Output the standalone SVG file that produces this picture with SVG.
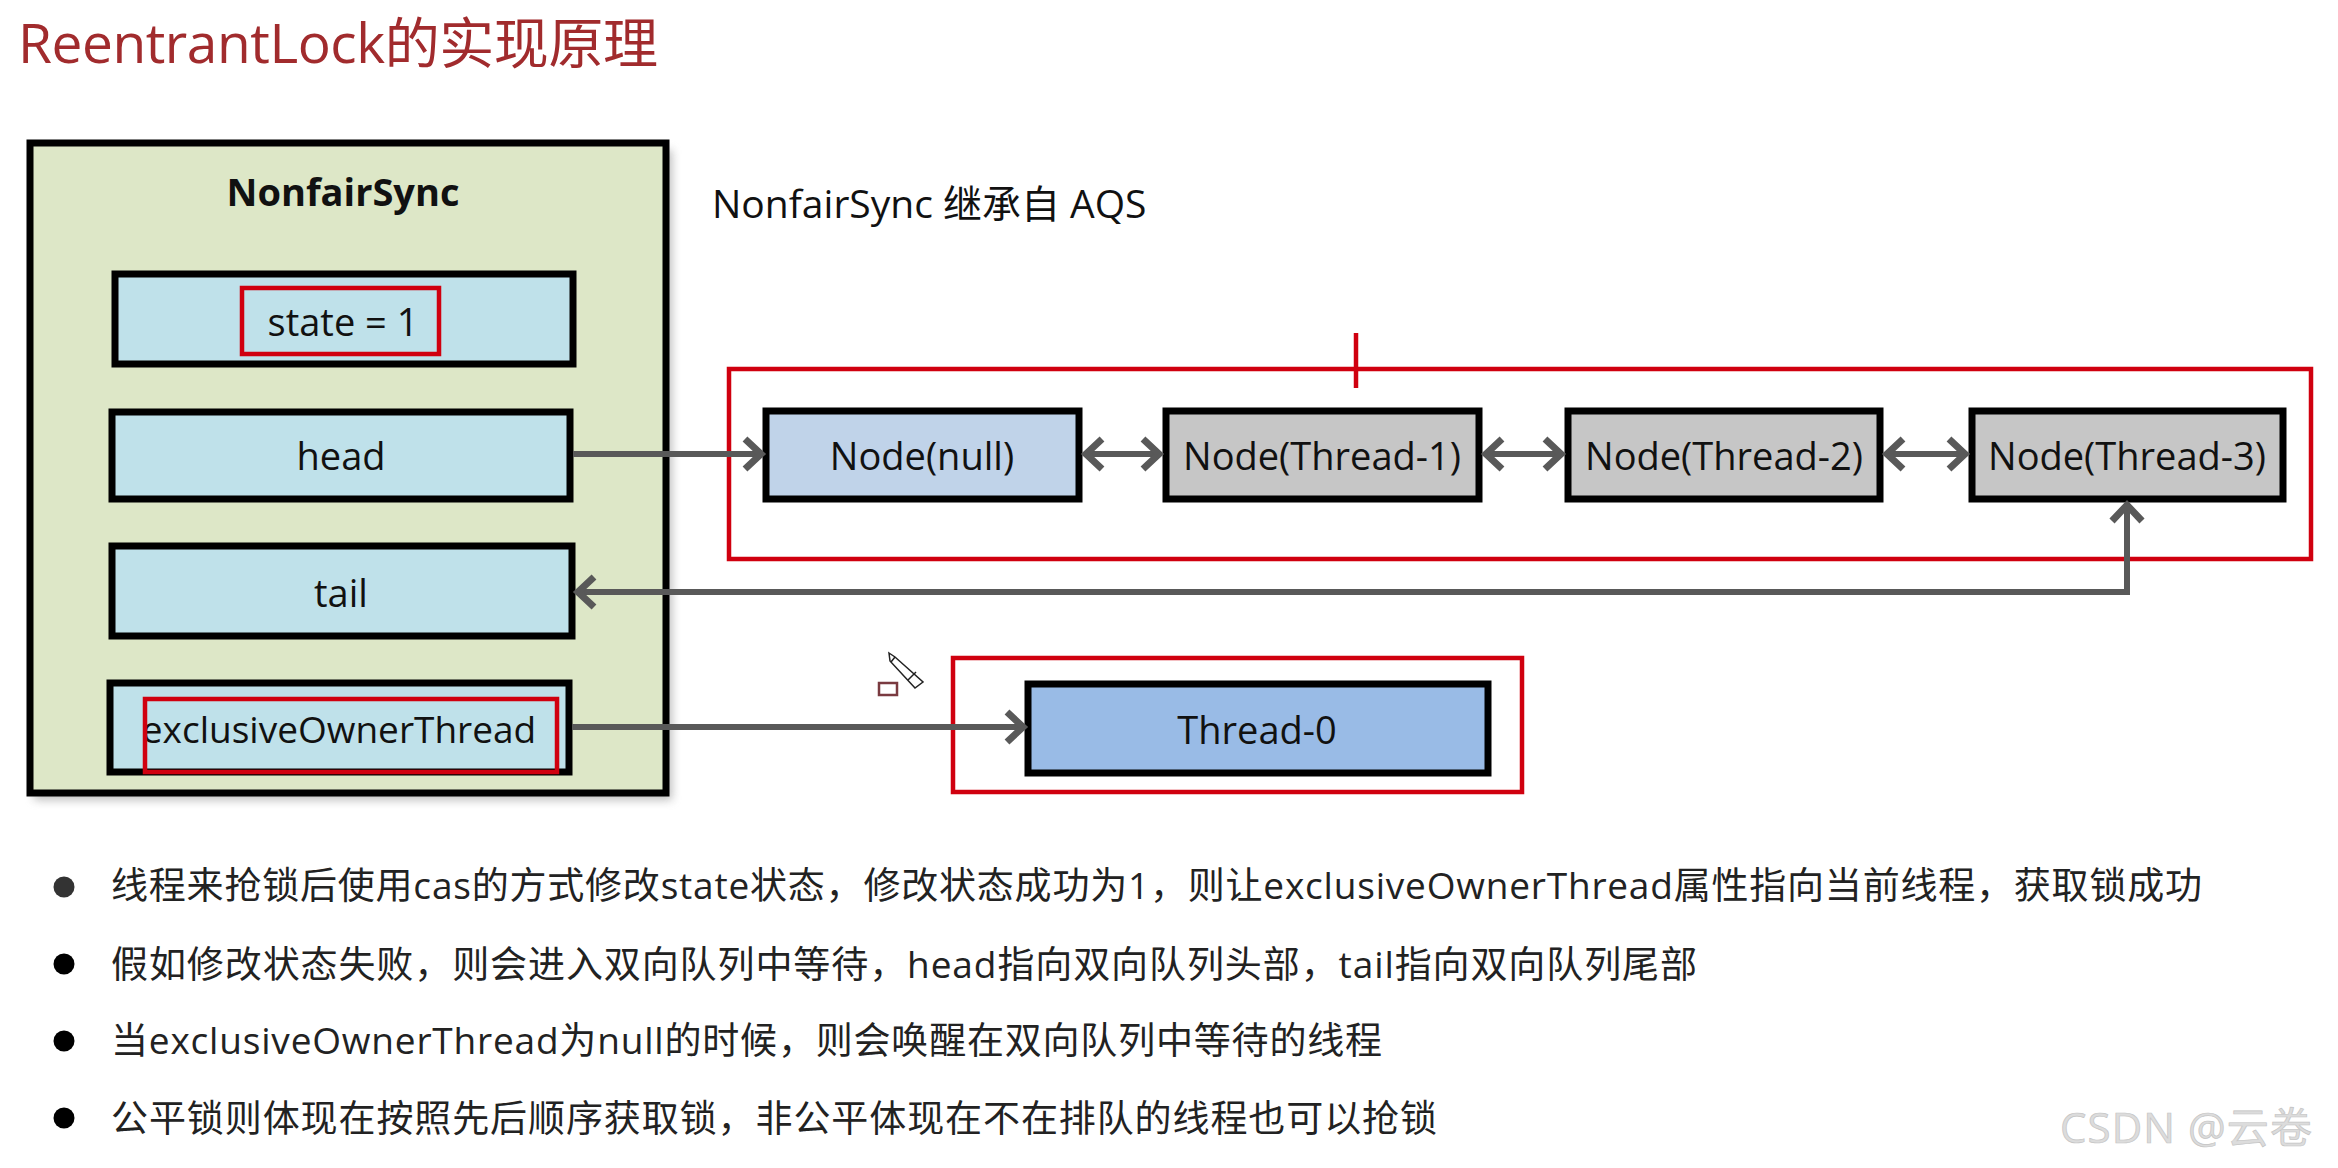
<svg xmlns="http://www.w3.org/2000/svg" width="2338" height="1168" viewBox="0 0 2338 1168">
<style>
text{font-family:"Open Sans","Noto Sans CJK SC",sans-serif;fill:#111}
.lbl{font-size:38px;text-anchor:middle;dominant-baseline:central}
.box{stroke:#000;stroke-width:7}
.cell{fill:#bfe1ea}
.red{fill:none;stroke:#d0000f;stroke-width:4.5}
.gray{fill:#c6c6c6}
.bl{font-size:37px;fill:#222}
.cn{stroke:#595959;stroke-width:6;fill:none;stroke-linejoin:miter}
</style>
<defs>
<marker id="a" markerUnits="userSpaceOnUse" markerWidth="30" markerHeight="40" viewBox="0 0 30 40" refX="26" refY="20" orient="auto-start-reverse"><path d="M8 5 L24 20 L8 35" fill="none" stroke="#595959" stroke-width="7"/></marker>
<filter id="s" x="-5%" y="-5%" width="112%" height="112%"><feGaussianBlur stdDeviation="5"/></filter>
</defs>
<rect width="2338" height="1168" fill="#fff"/>
<text id="title" x="18" y="63" font-size="55" style="fill:#a12b2d" textLength="640">ReentrantLock的实现原理</text>
<g id="nonfairsync">
<rect x="34" y="150" width="638" height="650" fill="#888" opacity=".55" filter="url(#s)"/>
<rect class="box" x="30" y="143" width="636" height="650" fill="#dde7c7"/>
<text class="lbl" x="343" y="191" font-weight="700">NonfairSync</text>
</g>
<g id="state"><rect class="box cell" x="115" y="274" width="458" height="90"/><text class="lbl" x="343" y="321">state = 1</text></g>
<g id="head"><rect class="box cell" x="112" y="412" width="458" height="87"/><text class="lbl" x="341" y="455">head</text></g>
<g id="tail"><rect class="box cell" x="112" y="546" width="460" height="90"/><text class="lbl" x="341" y="592">tail</text></g>
<g id="exclusive"><rect class="box cell" x="110" y="683" width="459" height="89"/><text class="lbl" x="339" y="728" style="font-size:37px">exclusiveOwnerThread</text></g>
<g id="desc"><text x="712" y="202" font-size="39" dominant-baseline="central">NonfairSync 继承自 AQS</text></g>
<g id="highlights">
<rect class="red" x="242" y="288" width="197" height="66"/>
<rect class="red" x="145" y="699" width="412" height="73"/>
<rect class="red" x="729" y="369" width="1582" height="190"/>
<path class="red" d="M1356 333V388"/>
<rect class="red" x="953" y="658" width="569" height="134"/>
</g>
<g id="node-null"><rect class="box" x="766" y="411" width="313" height="88" fill="#c0d3e9"/><text class="lbl" x="922" y="455">Node(null)</text></g>
<g id="node-1"><rect class="box gray" x="1166" y="411" width="313" height="88"/><text class="lbl" x="1322" y="455">Node(Thread-1)</text></g>
<g id="node-2"><rect class="box gray" x="1568" y="411" width="312" height="88"/><text class="lbl" x="1724" y="455">Node(Thread-2)</text></g>
<g id="node-3"><rect class="box gray" x="1972" y="411" width="311" height="88"/><text class="lbl" x="2127" y="455">Node(Thread-3)</text></g>
<g id="thread-0"><rect class="box" x="1028" y="684" width="460" height="89" fill="#99bbe6"/><text class="lbl" x="1257" y="729">Thread-0</text></g>
<g id="connectors">
<path class="cn" d="M573 454H763" marker-end="url(#a)"/>
<path class="cn" d="M1084 454H1161" marker-start="url(#a)" marker-end="url(#a)"/>
<path class="cn" d="M1484 454H1563" marker-start="url(#a)" marker-end="url(#a)"/>
<path class="cn" d="M1885 454H1967" marker-start="url(#a)" marker-end="url(#a)"/>
<path class="cn" d="M2127 503V592H576" marker-start="url(#a)" marker-end="url(#a)"/>
<path class="cn" d="M572 727H1025" marker-end="url(#a)"/>
</g>
<g id="cursor" fill="#fff" stroke="#222" stroke-width="1.5">
<path d="M889 653 L895 657 L923 682 L915 688 L890 661 Z"/>
<path d="M891 662 L895 657 M908 680 L916 672" fill="none"/>
<rect x="879" y="683" width="18" height="12" stroke="#7a3a40" stroke-width="2.5"/>
</g>
<g id="bullets">
<circle cx="64" cy="887" r="10.5" style="fill:#333"/><circle cx="64" cy="964" r="10.5" fill="#000"/><circle cx="64" cy="1041" r="10.5" fill="#000"/><circle cx="64" cy="1118" r="10.5" fill="#000"/>
<text class="bl" x="111" y="899" textLength="2091">线程来抢锁后使用cas的方式修改state状态，修改状态成功为1，则让exclusiveOwnerThread属性指向当前线程，获取锁成功</text>
<text class="bl" x="111" y="978" textLength="1586">假如修改状态失败，则会进入双向队列中等待，head指向双向队列头部，tail指向双向队列尾部</text>
<text class="bl" x="111" y="1054" textLength="1271">当exclusiveOwnerThread为null的时候，则会唤醒在双向队列中等待的线程</text>
<text class="bl" x="111" y="1132" textLength="1326">公平锁则体现在按照先后顺序获取锁，非公平体现在不在排队的线程也可以抢锁</text>
</g>
<text id="watermark" x="2060" y="1143" font-size="42" textLength="252" style="fill:#dcdcdc;stroke:#c4c4c4;stroke-width:.7">CSDN @云卷</text>
</svg>
